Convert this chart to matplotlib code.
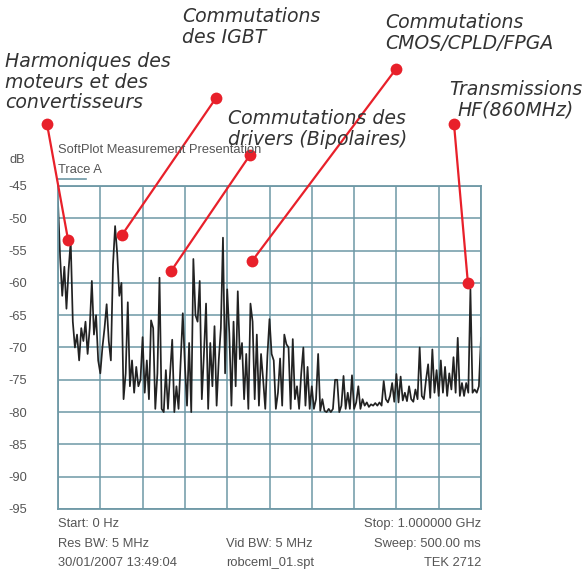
import numpy as np
import matplotlib
matplotlib.use("Agg")
import matplotlib.pyplot as plt

# spectrum trace, one value every 5 MHz from 0 Hz to 1 GHz (dB)
trace_db = [
    -47.5, -56, -62, -57.5, -64, -58, -53.5, -66, -70, -68,
    -72, -67, -69, -66, -71, -67, -59.7, -68, -65, -72,
    -74, -70, -67, -63.3, -69, -72, -57.2, -51.2, -55.5, -62,
    -60, -78, -74, -63, -76, -72, -77, -73, -76, -75,
    -68.4, -77, -72, -78, -65.8, -67, -79.5, -74, -59.2, -79.5,
    -80, -73.5, -79.5, -74, -68.8, -80, -76, -79.5, -72, -64.7,
    -72.7, -79, -69.3, -80, -56.3, -65, -66, -59.7, -78, -71,
    -63.2, -79.5, -69.3, -76, -66.7, -79, -72, -67, -53, -74,
    -61, -67.8, -79, -66, -76, -61.3, -71.8, -69.3, -78, -71,
    -79.5, -63.2, -66, -78, -68, -79, -71, -75, -79.5, -71.3,
    -65.6, -71, -72, -79.5, -77, -71.7, -79, -68, -69.5, -70,
    -79.5, -68.7, -78, -76, -79.5, -74, -70, -79, -73, -79.5,
    -76, -79.5, -78, -71, -79.8, -78, -79.8, -80, -79.5, -80,
    -79.5, -75, -75, -80, -79, -74.4, -79.5, -77, -79.5, -74.3,
    -79.5, -78.5, -76, -79.5, -78, -79, -78.5, -79.2, -78.8, -79,
    -78.6, -79, -78.5, -79, -75.2, -78, -78.5, -77.5, -75.5, -78.4,
    -74.1, -78.5, -74.5, -78.2, -77, -78.3, -76, -78, -78.4, -76.5,
    -78, -70, -77.5, -78, -75, -72.6, -77.8, -70.3, -77, -73.5,
    -77.5, -72, -77, -73, -77.5, -74, -76.5, -71.5, -77, -68.5,
    -77.5, -75.5, -77.5, -75.5, -77, -61, -77, -76.5, -77, -76,
    -68.5,
]
freq_mhz = np.linspace(0, 1000, len(trace_db))

y_ticks = [-45, -50, -55, -60, -65, -70, -75, -80, -85, -90, -95]

# annotations: text, peak pointed at (MHz, dB)
notes = ["Harmoniques des\nmoteurs et des\nconvertisseurs",
         "Commutations\ndes IGBT",
         "Commutations des\ndrivers (Bipolaires)",
         "Commutations\nCMOS/CPLD/FPGA",
         "Transmissions\nHF(860MHz)"]
note_peak_mhz = [24, 151, 267, 459, 969]
note_peak_db = [-53.4, -52.6, -58.2, -56.6, -60.0]

W, H = 584, 571
grey = "#555555"
teal = "#6e98a6"
red = "#e8202a"

fig = plt.figure(figsize=(W / 100, H / 100), dpi=100)
ax = fig.add_axes([58 / W, 1 - 509 / H, 423 / W, 323 / H])
ax.plot(freq_mhz, trace_db, color="#222222", lw=1.25)
ax.set_xlim(0, 1000)
ax.set_ylim(-95, -45)
ax.set_xticks(np.arange(0, 1001, 100))
ax.set_xticklabels([])
ax.set_yticks(y_ticks)
ax.set_yticklabels([str(v) for v in y_ticks], fontsize=9.3, color=grey,
                   family="Liberation Sans", ha="left")
ax.tick_params(axis="y", length=0, pad=36)
ax.tick_params(axis="x", length=0)
ax.grid(True, color=teal, lw=1.1)
ax.set_axisbelow(True)
for s in ax.spines.values():
    s.set_color(teal)
    s.set_linewidth(1.3)

# overlay in image pixels for headers, footer and annotations
ov = fig.add_axes([0, 0, 1, 1], zorder=5)
ov.set_xlim(0, W)
ov.set_ylim(H, 0)
ov.axis("off")

txt = dict(fontsize=9.3, color=grey, family="Liberation Sans", va="center")
ov.text(9, 160, "dB", **txt)
ov.text(58, 150, "SoftPlot Measurement Presentation", **txt)
ov.text(58, 170, "Trace A", **txt)
ov.plot([58, 86], [179, 179], color=teal, lw=1.2)
ov.text(58, 524, "Start: 0 Hz", **txt)
ov.text(481, 524, "Stop: 1.000000 GHz", ha="right", **txt)
ov.text(58, 544, "Res BW: 5 MHz", **txt)
ov.text(226, 544, "Vid BW: 5 MHz", **txt)
ov.text(481, 544, "Sweep: 500.00 ms", ha="right", **txt)
ov.text(58, 563, "30/01/2007 13:49:04", **txt)
ov.text(226, 563, "robceml_01.spt", **txt)
ov.text(481, 563, "TEK 2712", ha="right", **txt)

note_xy = [(5, 82), (182, 27), (228, 129), (385, 33), (516, 100)]
note_ha = ["left", "left", "left", "left", "center"]
dot_xy = [(47, 124), (216, 98), (250, 155), (396, 69), (454, 124)]
for i in range(len(notes)):
    ov.text(note_xy[i][0], note_xy[i][1], notes[i], fontsize=13.6, style="italic",
            color="#333333", ha=note_ha[i], va="center", linespacing=1.1,
            multialignment="center" if note_ha[i] == "center" else "left")
    px, py = ov.transData.inverted().transform(
        ax.transData.transform((note_peak_mhz[i], note_peak_db[i])))
    sx, sy = dot_xy[i]
    ov.plot([sx, px], [sy, py], color=red, lw=1.6)
    ov.plot([sx, px], [sy, py], "o", ms=8.5, color=red, mec="none")

fig.savefig("out.png", dpi=100)
